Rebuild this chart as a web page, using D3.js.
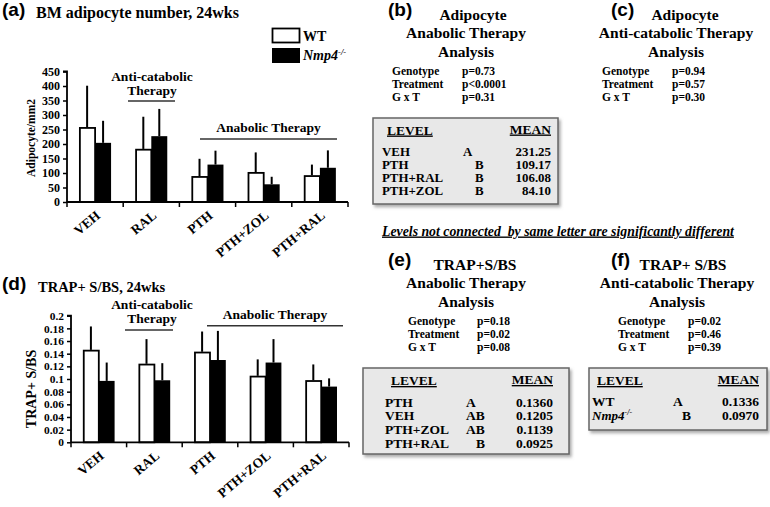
<!DOCTYPE html>
<html><head><meta charset="utf-8">
<script src="https://cdn.jsdelivr.net/npm/d3@7"></script>
<style>
body{margin:0;background:#fff;}
text{font-family:"Liberation Serif","Times New Roman",serif;font-weight:bold;fill:#000;}
.lbl{font-family:"Liberation Sans",Arial,sans-serif;font-weight:bold;}
</style></head><body>
<svg id="c" width="770" height="507"></svg>
<script>
// ---------- data ----------
const categories = ["VEH","RAL","PTH","PTH+ZOL","PTH+RAL"];
const groups = ["WT","Nmp4"];
const adipoWT = [258, 183, 89, 103, 92];
const adipoWTErr = [143, 111, 60, 68, 37];
const adipoKO = [204, 227, 129, 61, 118];
const adipoKOErr = [76, 94, 48, 26, 60];
const adipoTicks = [0,50,100,150,200,250,300,350,400,450];
const adipoTickLabels = ["0","50","100","150","200","250","300","350","400","450"];

const trapWT = [0.146, 0.124, 0.143, 0.105, 0.098];
const trapWTErr = [0.037, 0.039, 0.032, 0.026, 0.025];
const trapKO = [0.097, 0.098, 0.130, 0.126, 0.088];
const trapKOErr = [0.029, 0.027, 0.046, 0.037, 0.013];
const trapTicks = [0,0.02,0.04,0.06,0.08,0.1,0.12,0.14,0.16,0.18,0.2];
const trapTickLabels = ["0","0.02","0.04","0.06","0.08","0.1","0.12","0.14","0.16","0.18","0.2"];

const statLabels = ["Genotype","Treatment","G x T"];
const statsB = ["p=0.73","p<0.0001","p=0.31"];
const statsC = ["p=0.94","p=0.57","p=0.30"];
const statsE = ["p=0.18","p=0.02","p=0.08"];
const statsF = ["p=0.02","p=0.46","p=0.39"];

const levelsB = ["VEH","PTH","PTH+RAL","PTH+ZOL"];
const lettersB = ["A","B","B","B"];
const meansB = ["231.25","109.17","106.08","84.10"];
const levelsE = ["PTH","VEH","PTH+ZOL","PTH+RAL"];
const lettersE = ["A","AB","AB","B"];
const meansE = ["0.1360","0.1205","0.1139","0.0925"];
const levelsF = ["WT","Nmp4"];
const lettersF = ["A","B"];
const meansF = ["0.1336","0.0970"];

// ---------- drawing ----------
const svg = d3.select("#c");
const defs = svg.append("defs");
const f = defs.append("filter").attr("id","sh").attr("x","-10%").attr("y","-10%").attr("width","130%").attr("height","140%");
f.append("feDropShadow").attr("dx",2).attr("dy",2.5).attr("stdDeviation",1.8).attr("flood-color","#777").attr("flood-opacity",0.6);

function nmp4(sel, size){
  sel.append("tspan").attr("font-style","italic").text("Nmp4");
  sel.append("tspan").attr("font-style","italic").attr("font-size",size*0.62).attr("dy",-size*0.38).text("-/-");
}

function chart(o){
  const g = svg.append("g");
  const x = d3.scaleBand().domain(categories).range(o.xr).paddingInner(0).paddingOuter(0);
  const x1 = d3.scaleBand().domain(groups).range([0, x.bandwidth()]).paddingInner(0).paddingOuter(0.76);
  const y = d3.scaleLinear().domain(o.dom).range(o.yr);
  const base = y(0);
  const rows = categories.map((c,i)=>[
    {c, g:"WT", v:o.wt[i], e:o.wtE[i]},
    {c, g:"Nmp4", v:o.ko[i], e:o.koE[i]}]).flat();
  // error bars (upper only)
  g.selectAll(".err").data(rows).join("line")
    .attr("x1",d=>x(d.c)+x1(d.g)+x1.bandwidth()/2).attr("x2",d=>x(d.c)+x1(d.g)+x1.bandwidth()/2)
    .attr("y1",d=>y(d.v)).attr("y2",d=>y(d.v+d.e))
    .attr("stroke","#000").attr("stroke-width",2);
  g.selectAll(".bar").data(rows).join("rect")
    .attr("x",d=>x(d.c)+x1(d.g)+(d.g==="WT"?0.75:0)).attr("width",d=>x1.bandwidth()-(d.g==="WT"?0.75:0))
    .attr("y",d=>y(d.v)+(d.g==="WT"?0.75:0)).attr("height",d=>base-y(d.v)-(d.g==="WT"?0.75:0))
    .attr("fill",d=>d.g==="WT"?"#fff":"#000")
    .attr("stroke","#000").attr("stroke-width",d=>d.g==="WT"?1.8:0);
  // y axis
  const ya = d3.axisLeft(y).tickValues(o.ticks).tickFormat((d,i)=>o.tickLabels[i]).tickSize(4).tickPadding(3);
  const yg = g.append("g").attr("transform",`translate(${o.xr[0]},0)`).call(ya);
  yg.select(".domain").attr("stroke-width",1.8).attr("d",`M-4,${o.yr[1]}H0V${base}`);
  yg.selectAll(".tick line").attr("stroke-width",1.5);
  yg.selectAll(".tick text").attr("font-family","Liberation Serif").attr("font-weight","bold").attr("font-size",o.tickfs).attr("fill","#000");
  // x axis
  g.append("line").attr("x1",o.xr[0]).attr("x2",o.xr[1]).attr("y1",base).attr("y2",base).attr("stroke","#000").attr("stroke-width",1.8);
  const bounds = categories.map(c=>x(c)).concat([o.xr[1]]);
  g.selectAll(".xt").data(bounds).join("line")
    .attr("x1",d=>d).attr("x2",d=>d).attr("y1",base).attr("y2",base+5).attr("stroke","#000").attr("stroke-width",1.5);
  g.selectAll(".xl").data(categories).join("text")
    .attr("transform",d=>`translate(${x(d)+x.bandwidth()/2+6},${base+15}) rotate(-40)`)
    .attr("text-anchor","end").attr("font-size",13.5).text(d=>d);
  // y label
  g.append("text").attr("transform",`translate(${o.ylx},${o.yly}) rotate(-90)`).attr("text-anchor","middle")
    .attr("font-size",o.ylfs).text(o.ylabel);
  // annotations
  const a = o.ann;
  g.append("text").attr("x",a.acx).attr("y",a.acy1).attr("text-anchor","middle").attr("font-size",13.5).text("Anti-catabolic");
  g.append("text").attr("x",a.acx).attr("y",a.acy2).attr("text-anchor","middle").attr("font-size",13.5).text("Therapy");
  g.append("line").attr("x1",a.acl[0]).attr("x2",a.acl[1]).attr("y1",a.acly).attr("y2",a.acly).attr("stroke","#333").attr("stroke-width",1.6);
  g.append("text").attr("x",(a.anl[0]+a.anl[1])/2).attr("y",a.any).attr("text-anchor","middle").attr("font-size",13.5).text("Anabolic Therapy");
  g.append("line").attr("x1",a.anl[0]).attr("x2",a.anl[1]).attr("y1",a.anly).attr("y2",a.anly).attr("stroke","#333").attr("stroke-width",1.6);
  // titles
  svg.append("text").attr("class","lbl").attr("x",2).attr("y",o.ty).attr("font-size",19).text(o.tag);
  svg.append("text").attr("x",o.tx).attr("y",o.ty+2).attr("font-size",o.tfs).text(o.title);
}

chart({xr:[67,348], yr:[202,71.5], dom:[0,450], wt:adipoWT, wtE:adipoWTErr, ko:adipoKO, koE:adipoKOErr,
  ticks:adipoTicks, tickLabels:adipoTickLabels, tickfs:12, ylabel:"Adipocyte/mm2", ylfs:11.5, ylx:35, yly:138,
  ann:{acx:152, acy1:80.5, acy2:95, acl:[128,175], acly:101, anl:[200,337], any:132, anly:139},
  tag:"(a)", title:"BM adipocyte number, 24wks", tx:36, ty:16, tfs:16});

chart({xr:[71,349], yr:[442.3,315.7], dom:[0,0.2], wt:trapWT, wtE:trapWTErr, ko:trapKO, koE:trapKOErr,
  ticks:trapTicks, tickLabels:trapTickLabels, tickfs:11.4, ylabel:"TRAP+ S/BS", ylfs:14, ylx:36, yly:389,
  ann:{acx:152, acy1:308.5, acy2:322.5, acl:[125,173], acly:330, anl:[207,343], any:319, anly:325.7},
  tag:"(d)", title:"TRAP+ S/BS, 24wks", tx:38, ty:290, tfs:14.5});

// legend
svg.append("rect").attr("x",272.5).attr("y",28.5).attr("width",27).attr("height",14).attr("fill","#fff").attr("stroke","#000").attr("stroke-width",1.8);
svg.append("rect").attr("x",272).attr("y",48).attr("width",28).attr("height",15).attr("fill","#000");
svg.append("text").attr("x",303).attr("y",41).attr("font-size",14).text("WT");
nmp4(svg.append("text").attr("x",303).attr("y",60).attr("font-size",14), 14);

// ---------- stats panels ----------
function panel(p){
  svg.append("text").attr("class","lbl").attr("x",p.tagx).attr("y",p.y0+16).attr("font-size",19).text(p.tag);
  svg.append("text").attr("x",p.t1x).attr("y",p.y0+19.5).attr("text-anchor","middle").attr("font-size",15.5).text(p.t1);
  svg.append("text").attr("x",p.tx).attr("y",p.y0+38).attr("text-anchor","middle").attr("font-size",15.5).text(p.t2);
  svg.append("text").attr("x",p.tx).attr("y",p.y0+56.5).attr("text-anchor","middle").attr("font-size",15.5).text("Analysis");
  statLabels.forEach((s,i)=>{
    svg.append("text").attr("x",p.sx).attr("y",p.y0+74.5+i*13.3).attr("font-size",11.5).text(s);
    svg.append("text").attr("x",p.vx).attr("y",p.y0+74.5+i*13.3).attr("font-size",11.5).text(p.stats[i]);
  });
}
panel({tag:"(b)", tagx:388, y0:0, t1:"Adipocyte", t1x:473, t2:"Anabolic Therapy", tx:466, sx:392, vx:462, stats:statsB});
panel({tag:"(c)", tagx:611, y0:0, t1:"Adipocyte", t1x:685, t2:"Anti-catabolic Therapy", tx:676, sx:602, vx:672, stats:statsC});
panel({tag:"(e)", tagx:388, y0:250, t1:"TRAP+S/BS", t1x:475, t2:"Anabolic Therapy", tx:466, sx:408, vx:477, stats:statsE});
panel({tag:"(f)", tagx:611, y0:250, t1:"TRAP+ S/BS", t1x:683, t2:"Anti-catabolic Therapy", tx:677, sx:618, vx:688, stats:statsF});

function table(t){
  svg.append("rect").attr("x",t.x).attr("y",t.y).attr("width",t.w).attr("height",t.h)
    .attr("fill","#e8e8e8").attr("stroke","#666").attr("stroke-width",1.5).attr("filter","url(#sh)");
  svg.append("text").attr("x",t.lx).attr("y",t.hy).attr("font-size",13.5).attr("text-decoration","underline").text("LEVEL");
  svg.append("text").attr("x",t.mx).attr("y",t.hy-1).attr("text-anchor","end").attr("font-size",13.5).attr("text-decoration","underline").text("MEAN");
  t.levels.forEach((l,i)=>{
    const yy = t.ry + i*t.rs;
    const tx = svg.append("text").attr("x",t.rx).attr("y",yy).attr("font-size",t.fs);
    if(l==="Nmp4") nmp4(tx.attr("font-weight","normal").attr("font-size",13), 13); else tx.text(l);
    const L = t.letters[i];
    svg.append("text").attr("x",L[0]==="A"?t.ax:t.bx).attr("y",yy).attr("font-size",t.fs).text(L);
    svg.append("text").attr("x",t.mx).attr("y",yy).attr("text-anchor","end").attr("font-size",t.fs).text(t.means[i]);
  });
}
table({x:373, y:118, w:185, h:86, lx:387, hy:134.5, mx:551, rx:382, ry:155.5, rs:13.2, fs:12.9, ax:463, bx:475, levels:levelsB, letters:lettersB, means:meansB});
table({x:363, y:368, w:206, h:86, lx:391, hy:385, mx:553, rx:385, ry:406.5, rs:13.9, fs:13.5, ax:466, bx:476, levels:levelsE, letters:lettersE, means:meansE});
table({x:589, y:368, w:178, h:62, lx:597, hy:385, mx:759, rx:592, ry:406, rs:14, fs:13.5, ax:673, bx:682, levels:levelsF, letters:lettersF, means:meansF});

svg.append("text").attr("x",382).attr("y",235.5).attr("font-size",13.8).attr("font-style","italic")
  .attr("text-decoration","underline").style("white-space","pre")
  .text("Levels not connected  by same letter are significantly different");
</script>
</body></html>
